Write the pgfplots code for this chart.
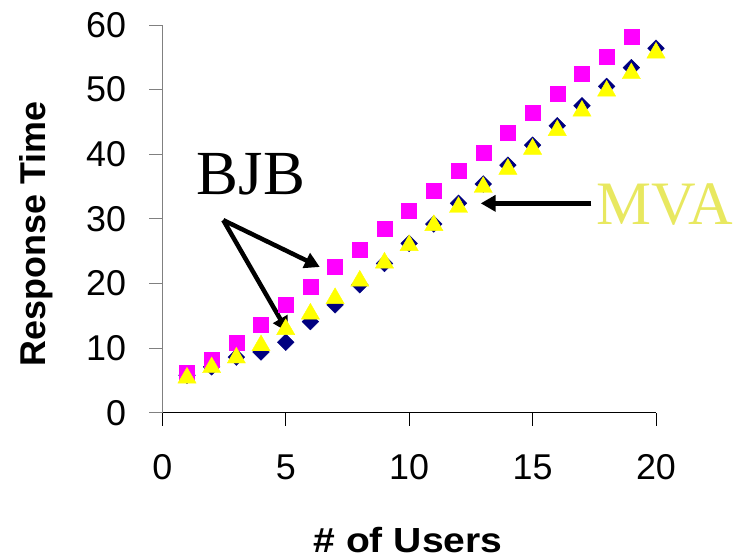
\documentclass[border=0pt]{standalone}
\usepackage{fontspec}
\setmainfont{Liberation Sans}
\newfontfamily\seriffont{Liberation Serif}
\usepackage{pgfplots}
\pgfplotsset{compat=1.18}
\usetikzlibrary{arrows.meta}
\definecolor{navyb}{RGB}{0,0,128}
\definecolor{magb}{RGB}{255,0,255}
\definecolor{yelb}{RGB}{255,255,0}
\definecolor{mvacol}{RGB}{232,232,96}
\begin{document}
\begin{tikzpicture}
\begin{axis}[
  at={(0,0)}, anchor=south west,
  scale only axis, width=493.7bp, height=387.7bp,
  xmin=0, xmax=20, ymin=0, ymax=60,
  axis x line*=bottom, axis y line*=left,
  x axis line style={black, line width=1bp, -},
  y axis line style={gray, line width=1bp, -},
  xtick={0,5,10,15,20}, ytick={0,10,20,30,40,50,60},
  tick align=outside, major tick length=13bp,
  xtick style={black, line width=1bp},
  ytick style={gray, line width=1bp},
  /pgf/number format/assume math mode=true,
  tick label style={font=\fontsize{36}{40}\selectfont, black},
  xticklabel style={inner sep=0pt, yshift=-29bp},
  yticklabel style={inner sep=0pt, xshift=-23bp},
  clip=false,
  xlabel={\scalebox{1.12}[1]{\textbf{\# of Users}}},
  ylabel={\textbf{Response Time}},
  xlabel style={font=\fontsize{35}{40}\selectfont, at={(axis description cs:0.4977,-0.3593)}, anchor=base, inner sep=0pt},
  ylabel style={font=\fontsize{36}{40}\selectfont, at={(axis description cs:-0.256,0.461)}, anchor=center, inner sep=0pt},
]
\addplot[only marks, mark=square*, mark size=5.9bp, color=navyb, mark options={rotate=45}] coordinates {
(1,5.8)(2,7.1)(3,8.6)(4,9.4)(5,10.9)(6,14.1)(7,16.7)(8,19.8)(9,23.1)(10,26.2)
(11,29.2)(12,32.4)(13,35.4)(14,38.3)(15,41.4)(16,44.4)(17,47.5)(18,50.5)(19,53.4)(20,56.4)};
\addplot[only marks, mark=square*, mark size=7.5bp, color=magb] coordinates {
(1,6.2)(2,8.2)(3,10.9)(4,13.6)(5,16.7)(6,19.5)(7,22.6)(8,25.3)(9,28.4)(10,31.2)
(11,34.3)(12,37.5)(13,40.2)(14,43.3)(15,46.5)(16,49.3)(17,52.4)(18,55.1)(19,58.2)};
\addplot[only marks, mark=triangle*, mark size=10.5bp, color=yelb, mark options={yshift=-2.6bp}] coordinates {
(1,5.8)(2,7.4)(3,8.9)(4,10.8)(5,13.3)(6,15.7)(7,18.1)(8,20.8)(9,23.6)(10,26.3)
(11,29.4)(12,32.2)(13,35.3)(14,38.1)(15,41.2)(16,44.1)(17,47.1)(18,50.2)(19,52.9)(20,56.1)};
\draw[line width=4.5bp, -{Triangle[length=15bp,width=16bp]}] (axis cs:2.47,29.8) -- (axis cs:6.38,22.55);
\draw[line width=4.5bp, -{Triangle[length=15bp,width=16bp]}] (axis cs:2.47,29.8) -- (axis cs:5.08,12.5);
\draw[line width=4.5bp, -{Triangle[length=15bp,width=16bp]}] (axis cs:17.38,32.4) -- (axis cs:12.9,32.4);
\node[anchor=base west, inner sep=0pt, font=\seriffont\fontsize{63}{70}\selectfont] at (axis cs:1.39,33.7) {BJB};
\node[anchor=base west, inner sep=0pt, text=mvacol, font=\seriffont\fontsize{62}{70}\selectfont] at (axis cs:17.59,29.06) {MVA};
\end{axis}
\pgfresetboundingbox
\useasboundingbox (-162.3bp,-147.3bp) rectangle (589.7bp,412.7bp);
\end{tikzpicture}
\end{document}
